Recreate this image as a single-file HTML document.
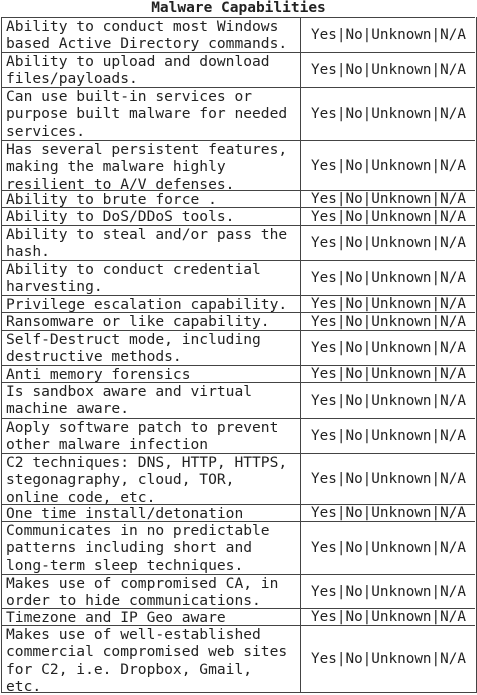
<!DOCTYPE html>
<html><head><meta charset="utf-8"><style>
body{margin:0;width:477px;height:695px;background:#fff;position:relative;overflow:hidden}
.h{position:absolute;left:1px;top:0;width:475px;height:17px;font:bold 14.5px "DejaVu Sans Mono","Liberation Mono",monospace;text-align:center;line-height:17px;color:#222}
.r{position:absolute;left:1px;width:474px;border-top:1px solid #444;}
.l{position:absolute;left:5px;top:0;width:295px;font:14.6px/17.3px "DejaVu Sans Mono","Liberation Mono",monospace;color:#222;white-space:pre}
.v{position:absolute;left:300px;width:175px;top:0;bottom:0;display:flex;align-items:center;justify-content:center;font:14.3px "DejaVu Sans Mono","Liberation Mono",monospace;color:#222}
.frame{position:absolute;left:1px;top:17px;width:474px;height:675px;border:1px solid #444;border-top:none}
.col{position:absolute;left:300px;top:17px;width:1px;height:675px;background:#444}
</style></head><body>
<div class="h">Malware Capabilities</div>
<div class="frame"></div><div class="col"></div>
<div id="rows"></div>
<script>
var rows=[
["Ability to conduct most Windows\nbased Active Directory commands.",17,52],
["Ability to upload and download\nfiles/payloads.",52,87],
["Can use built-in services or\npurpose built malware for needed\nservices.",87,140],
["Has several persistent features,\nmaking the malware highly\nresilient to A/V defenses.",140,190],
["Ability to brute force .",190,207],
["Ability to DoS/DDoS tools.",207,225],
["Ability to steal and/or pass the\nhash.",225,260],
["Ability to conduct credential\nharvesting.",260,295],
["Privilege escalation capability.",295,312],
["Ransomware or like capability.",312,330],
["Self-Destruct mode, including\ndestructive methods.",330,365],
["Anti memory forensics",365,382],
["Is sandbox aware and virtual\nmachine aware.",382,418],
["Aoply software patch to prevent\nother malware infection",418,453],
["C2 techniques: DNS, HTTP, HTTPS,\nstegonagraphy, cloud, TOR,\nonline code, etc.",453,504],
["One time install/detonation",504,521],
["Communicates in no predictable\npatterns including short and\nlong-term sleep techniques.",521,574],
["Makes use of compromised CA, in\norder to hide communications.",574,608],
["Timezone and IP Geo aware",608,625],
["Makes use of well-established\ncommercial compromised web sites\nfor C2, i.e. Dropbox, Gmail,\netc.",625,692]];
var h='';
rows.forEach(function(r){h+='<div class="r" style="top:'+r[1]+'px;height:'+(r[2]-r[1]-1)+'px"><div class="l">'+r[0]+'</div><div class="v">Yes|No|Unknown|N/A</div></div>';});
document.getElementById('rows').innerHTML=h;
</script>
</body></html>
